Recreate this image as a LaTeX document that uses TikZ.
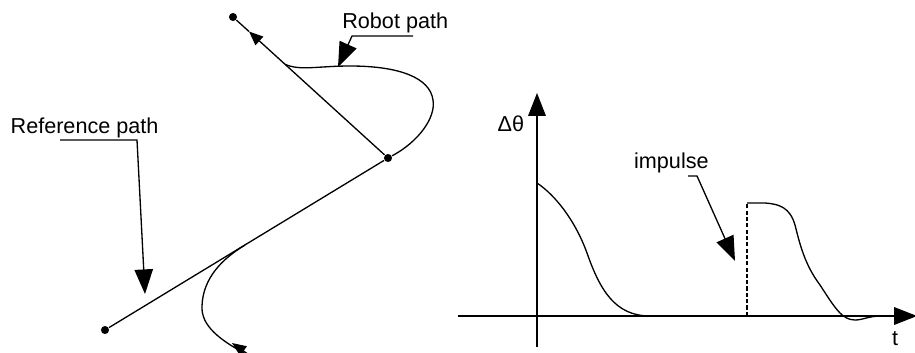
\documentclass[tikz,border=0pt]{standalone}
\usepackage{fontspec}
\setmainfont{Liberation Sans}
\usetikzlibrary{arrows.meta}
\begin{document}
\begin{tikzpicture}[x=0.02cm,y=-0.02cm,
  line width=0.75pt,
  lbl/.style={anchor=base west,inner sep=0pt,font=\fontsize{12.3}{14}\selectfont},
  dot/.style={circle,fill=black,inner sep=0pt,minimum size=4.6pt},
  bigtip/.style={-{Triangle[length=14pt,width=10.5pt]}},
  midtip/.style={-{Triangle[length=8pt,width=6.5pt]}},
  axis/.style={-{Triangle[length=13pt,width=10pt]}}]
\useasboundingbox (0,0) rectangle (915,352);
\clip (0,0) rectangle (915,352);
% ---------- left figure ----------
\node[dot] (top) at (233,17) {};
\node[dot] (mid) at (388,158) {};
\node[dot] (low) at (105,330) {};
\coordinate (mtip) at (249,31.5);
% reference line
\draw (low) -- (mid);
\draw[midtip] (mid) -- (mtip);
\draw (mtip) -- (top);
% robot path
\coordinate (rstart) at (252,357);
\coordinate (rtip) at (232,343);
\coordinate (tang) at (245,245);
\coordinate (rjoin) at (285,64.3);
\draw (tang) .. controls (222,259) and (203,278) .. (202,306)
  .. controls (201,325) and (218,340) .. (rstart);
\draw[midtip] (rstart) -- (rtip);
\draw (mid) .. controls (418,142) and (436,118) .. (433,100)
  .. controls (430,78) and (400,66) .. (350,66)
  .. controls (318,66) and (300,71) .. (rjoin);
% labels
\node[lbl] (rob) at (341.7,28.3) {Robot path};
\node[lbl] (ref) at (10,133.5) {Reference path};
\coordinate (rob1) at (413,36);
\coordinate (rob2) at (352,36);
\coordinate (robt) at (338,67);
\draw[bigtip] (rob1) -- (rob2) -- (robt);
\coordinate (ref1) at (60,140);
\coordinate (ref2) at (137,140);
\coordinate (reft) at (145,294);
\draw[bigtip] (ref1) -- (ref2) -- (reft);
% ---------- right figure ----------
\coordinate (ybot) at (537,347);
\coordinate (ytop) at (537,93);
\coordinate (xl) at (458,316);
\coordinate (xr) at (917,316);
\draw[axis] (ybot) -- (ytop);
\draw[axis] (xl) -- (xr);
\node[lbl] (dth) at (497,131) {Δθ};
\node[lbl] (tl) at (891.5,345) {t};
\node[lbl] (imp) at (633.5,168) {impulse};
\coordinate (imp1) at (688,176);
\coordinate (imp2) at (697,176);
\coordinate (impt) at (735,261);
\draw[bigtip] (imp1) -- (imp2) -- (impt);
% first decay
\coordinate (c1s) at (537,183);
\coordinate (c1e) at (650,316);
\draw (c1s) .. controls (555,195) and (575,220) .. (587,253)
  .. controls (600,290) and (615,316) .. (c1e);
% impulse
\coordinate (pb) at (747,316);
\coordinate (pt) at (747,203);
\draw[dash pattern=on 2.4pt off 1.2pt] (pb) -- (pt);
\coordinate (c2e) at (882,316);
\draw (pt) -- (765,203) .. controls (780,204) and (790,208) .. (795,225)
  .. controls (800,245) and (805,265) .. (820,285)
  .. controls (835,308) and (842,320) .. (855,320)
  .. controls (863,320) and (868,316) .. (c2e);
\end{tikzpicture}
\end{document}
